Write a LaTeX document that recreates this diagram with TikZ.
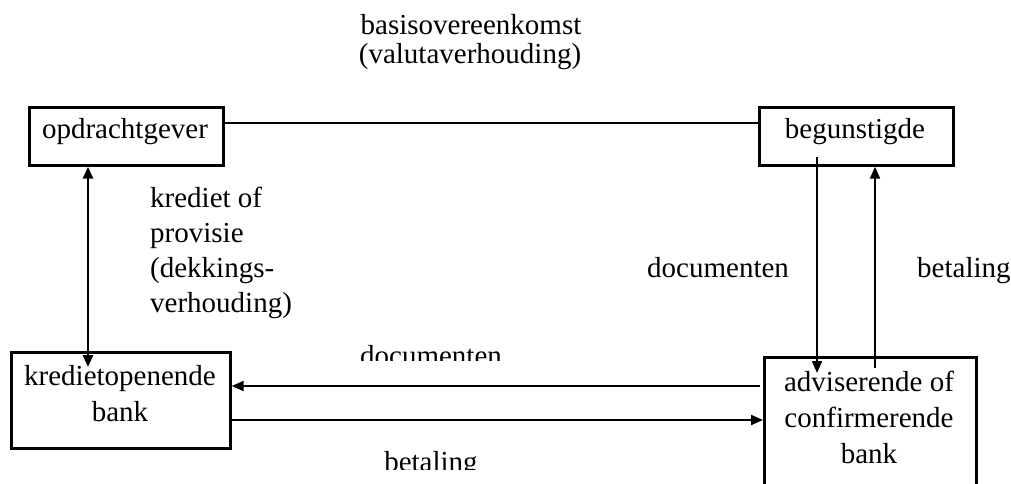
\documentclass[tikz,border=0pt]{standalone}
\usepackage{fontspec}
\setmainfont{Liberation Serif}
\usetikzlibrary{arrows.meta}
\begin{document}
\begin{tikzpicture}[x=1pt,y=-1pt,
  box/.style={draw, line width=2.7pt, inner sep=0pt},
  txt/.style={font=\fontsize{29}{36}\selectfont, inner sep=0pt, anchor=base, align=center},
  conn/.style={line width=2pt},
  tip/.style={-{Triangle[length=12pt,width=10pt]}},
  dtip/.style={{Triangle[length=12pt,width=10pt]}-{Triangle[length=12pt,width=10pt]}}]
\useasboundingbox (0,0) rectangle (1011,483);
% boxes
\node[box, anchor=north west, minimum width=194pt, minimum height=58pt] (op) at (28,106) {};
\node[box, anchor=north west, minimum width=194pt, minimum height=58pt] (beg) at (758,106) {};
\node[box, anchor=north west, minimum width=219pt, minimum height=96pt] (kb) at (10,351) {};
\node[box, anchor=north west, minimum width=212pt, minimum height=160pt] (ab) at (763,356) {};
% box texts (base = baseline of last line)
\node[txt] (opT) at (125,138) {opdrachtgever};
\node[txt] (begT) at (855,138) {begunstigde};
\node[txt] (kbT) at (120,421) {kredietopenende\\bank};
\node[txt] (abT) at (869,463) {adviserende of\\confirmerende\\bank};
% labels
\node[txt] (basis) at (471,34) {basisovereenkomst};
\node[txt] (valuta) at (470,63) {(valutaverhouding)};
\node[txt, align=left, anchor=base west, font=\fontsize{29}{35}\selectfont] (krediet) at (150,312) {krediet of\\provisie\\(dekkings-\\verhouding)};
\node[txt, anchor=base west] (docR) at (647,277) {documenten};
\node[txt, anchor=base west] (betR) at (917,277) {betaling};
\begin{scope}
  \clip (300,330) rectangle (560,360);
  \node[txt] (docB) at (431,365) {documenten};
\end{scope}
\begin{scope}
  \clip (300,430) rectangle (560,469);
  \node[txt] (betB) at (431,471) {betaling};
\end{scope}
% connectors
\coordinate (topy) at (0,123);
\draw[conn] (op.east |- topy) -- (beg.west |- topy);
\coordinate (v1) at (88,367);
\draw[conn, line width=2.7pt, dtip] (op.south -| v1) -- (v1);
\coordinate (d1s) at (817,157);
\coordinate (d1e) at (817,373);
\draw[conn, tip] (d1s) -- (d1e);
\coordinate (u1) at (875,368);
\draw[conn, tip] (u1) -- (beg.south -| u1);
\coordinate (h1) at (760,386);
\draw[conn, tip] (h1) -- (kb.east |- h1);
\coordinate (h2) at (0,420);
\draw[conn, tip] (kb.east |- h2) -- (ab.west |- h2);
\end{tikzpicture}
\end{document}
